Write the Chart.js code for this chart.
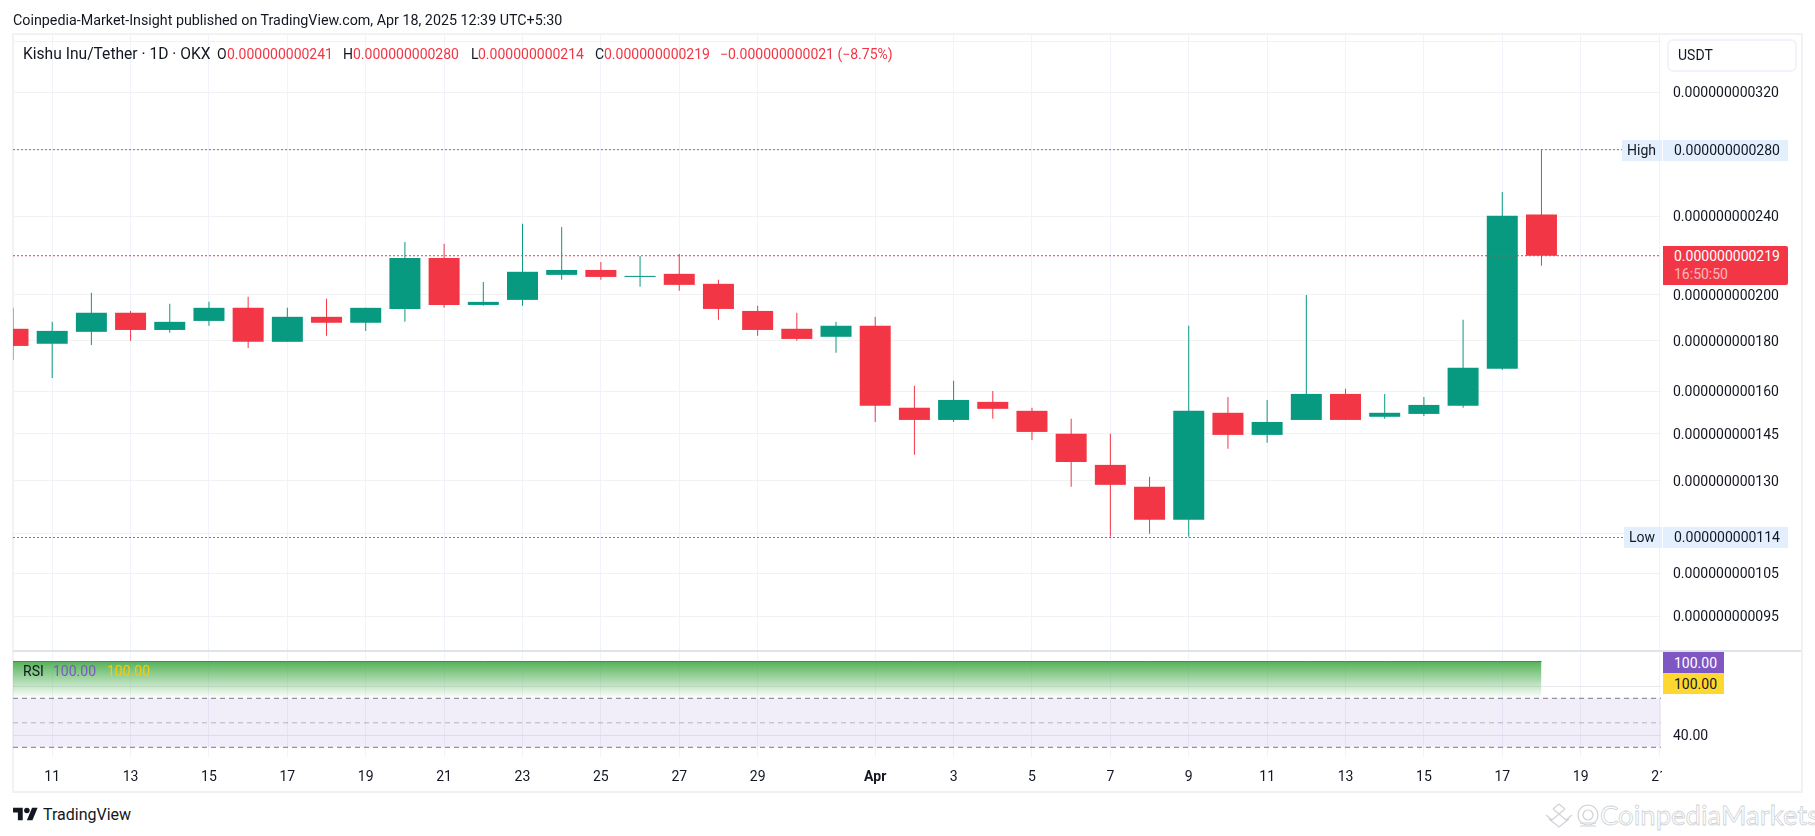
<!DOCTYPE html>
<html>
<head>
<meta charset="utf-8">
<title>Kishu Inu/Tether</title>
<script src="https://cdn.jsdelivr.net/npm/chart.js@4/dist/chart.umd.min.js"></script>
<style>
  html, body { margin: 0; padding: 0; background: #fff; }
  body { width: 1815px; height: 836px; position: relative; overflow: hidden; font: 14px Roboto, sans-serif; color: #131722; }
  canvas { position: absolute; left: 0; }
  .txt { position: absolute; white-space: nowrap; line-height: 16px; }
  .red { color: #f23645; }
  .box { position: absolute; background: #e3effd; }
  #frame { position: absolute; left: 12px; top: 33px; width: 1787px; height: 756px; border: 2px solid #f2f2f2; }
  #sep { position: absolute; left: 13px; top: 650px; width: 1788px; height: 2px; background: #e0e3eb; }
  #mask { position: absolute; left: 1662px; top: 760px; width: 30px; height: 28px; background: #fff; }
  #usdt { position: absolute; left: 1667px; top: 39px; width: 126px; height: 29px; border: 2px solid #f0f3fa; border-radius: 6px; background: #fff; }
</style>
</head>
<body>
<div id="frame"></div>
<canvas id="priceChart" width="1815" height="650" style="top:0"></canvas>
<canvas id="rsiChart" width="1815" height="140" style="top:652px"></canvas>
<div id="sep"></div>
<div id="mask"></div>

<div class="txt" style="left:13px;top:12px;font-size:14.3px">Coinpedia-Market-Insight published on TradingView.com, Apr 18, 2025 12:39 UTC+5:30</div>

<div class="txt" style="left:23px;top:46px;font-size:15.6px">Kishu Inu/Tether · 1D · OKX</div>
<div class="txt" style="left:217px;top:46px">O</div>
<div class="txt red" style="left:227px;top:46px">0.000000000241</div>
<div class="txt" style="left:343px;top:46px">H</div>
<div class="txt red" style="left:353px;top:46px">0.000000000280</div>
<div class="txt" style="left:471px;top:46px">L</div>
<div class="txt red" style="left:478px;top:46px">0.000000000214</div>
<div class="txt" style="left:595px;top:46px">C</div>
<div class="txt red" style="left:604px;top:46px">0.000000000219</div>
<div class="txt red" style="left:720px;top:46px">−0.000000000021 (−8.75%)</div>

<div id="usdt"></div>
<div class="txt" style="left:1678px;top:47px">USDT</div>

<div class="box" style="left:1622px;top:140px;width:40px;height:21px"></div>
<div class="box" style="left:1663px;top:140px;width:125px;height:21px"></div>
<div class="txt" style="left:1627px;top:142px">High</div>
<div class="txt" style="left:1674px;top:142px">0.000000000280</div>

<div class="box" style="left:1624px;top:527px;width:38px;height:21px"></div>
<div class="box" style="left:1663px;top:527px;width:125px;height:21px"></div>
<div class="txt" style="left:1629px;top:529px">Low</div>
<div class="txt" style="left:1674px;top:529px">0.000000000114</div>

<div class="box" style="left:1663px;top:246px;width:125px;height:39px;background:#f23645;border-radius:0 2px 2px 0"></div>
<div class="txt" style="left:1674px;top:248px;color:#fff">0.000000000219</div>
<div class="txt" style="left:1674px;top:266px;color:rgba(255,255,255,.65)">16:50:50</div>

<div class="txt" style="left:23px;top:663px">RSI</div>
<div class="txt" style="left:53px;top:663px;color:#7e57c2">100.00</div>
<div class="txt" style="left:107px;top:663px;color:#ffc800">100.00</div>

<div class="box" style="left:1663px;top:652px;width:61px;height:21px;background:#7e57c2"></div>
<div class="box" style="left:1663px;top:673px;width:61px;height:21px;background:#ffd82f"></div>
<div class="txt" style="left:1674px;top:655px;color:#fff">100.00</div>
<div class="txt" style="left:1674px;top:676px">100.00</div>

<svg style="position:absolute;left:12.7px;top:805px" width="25" height="19.4" viewBox="0 0 36 28" fill="#131722">
  <path d="M14 22H7V11H0V4h14v18zM28 22h-8l7.5-18h8L28 22z"/><circle cx="20" cy="8" r="4"/>
</svg>
<div class="txt" style="left:43px;top:807px;font-size:16px">TradingView</div>

<svg style="position:absolute;left:1545px;top:802px" width="56" height="26" fill="none" stroke="#cfd2d6" stroke-width="1.2">
  <path d="M1 13l6 5 7-6 7 6 6-5M4 17l10 8 10-8M8 7l6-5 6 5M8 7l6 5 6-5"/>
  <circle cx="43" cy="13" r="10"/><circle cx="43" cy="13" r="5"/><path d="M35 21h16M35 24h16"/>
</svg>
<div class="txt" style="left:1600px;top:799px;font:27.5px/32px Lato, sans-serif;color:#fff;-webkit-text-stroke:.8px #cfd2d6">CoinpediaMarkets</div>

<script>
// candles, Mar 10 to Apr 18, prices in units of 1e-12
const candleDates = ["Mar 10", "Mar 11", "Mar 12", "Mar 13", "Mar 14", "Mar 15", "Mar 16", "Mar 17", "Mar 18", "Mar 19",
  "Mar 20", "Mar 21", "Mar 22", "Mar 23", "Mar 24", "Mar 25", "Mar 26", "Mar 27", "Mar 28", "Mar 29", "Mar 30", "Mar 31",
  "Apr 1", "Apr 2", "Apr 3", "Apr 4", "Apr 5", "Apr 6", "Apr 7", "Apr 8", "Apr 9", "Apr 10",
  "Apr 11", "Apr 12", "Apr 13", "Apr 14", "Apr 15", "Apr 16", "Apr 17", "Apr 18"];
const opens = [184.9, 178.6, 183.6, 191.9, 184.4, 188.3, 194.1, 179.4, 190.1, 187.5,
  193.6, 217.9, 195.4, 197.7, 209.5, 211.9, 208.5, 210.0, 205.2, 192.7, 184.9, 181.5,
  186.2, 154.0, 149.7, 156.1, 152.9, 145.0, 134.9, 128.2, 118.8, 152.2,
  144.6, 149.7, 159.0, 150.8, 151.8, 154.7, 168.5, 241];
const highs = [194.1, 187.9, 201.0, 192.7, 195.9, 196.8, 199.1, 194.1, 198.2, 194.1,
  226.1, 225.1, 206.1, 235.8, 234.1, 215.9, 218.9, 219.9, 207.1, 195.0, 191.9, 187.9,
  190.1, 162.0, 163.9, 160.1, 154.0, 150.1, 145.0, 131.2, 186.2, 157.9,
  156.8, 200.0, 160.9, 159.0, 157.9, 188.8, 253.9, 280];
const lows = [172.1, 165.0, 178.1, 179.8, 183.2, 186.2, 176.9, 179.4, 181.9, 184.0,
  187.9, 194.1, 195.0, 195.0, 207.1, 207.1, 203.8, 201.9, 188.8, 181.9, 179.8, 174.9,
  149.0, 138.1, 149.0, 150.1, 142.9, 128.2, 114.2, 115.0, 114.2, 140.0,
  142.0, 149.7, 149.7, 150.1, 151.1, 154.0, 168.1, 214];
const closes = [177.7, 184.0, 191.9, 184.4, 187.9, 194.1, 179.4, 190.1, 187.5, 194.1,
  217.9, 195.4, 196.8, 211.0, 211.9, 208.5, 209.0, 204.7, 193.6, 184.4, 180.6, 186.2,
  154.7, 149.7, 156.8, 153.6, 145.6, 135.8, 128.8, 118.8, 152.9, 144.6,
  149.0, 159.0, 149.7, 152.2, 155.0, 168.9, 240.2, 219];

const rsiValues = [100, 100, 100, 100, 100, 100, 100, 100, 100, 100, 100, 100, 100, 100, 100, 100, 100, 100, 100, 100,
  100, 100, 100, 100, 100, 100, 100, 100, 100, 100, 100, 100, 100, 100, 100, 100, 100, 100, 100, 100];
const rsiMaValues = [100, 100, 100, 100, 100, 100, 100, 100, 100, 100, 100, 100, 100, 100, 100, 100, 100, 100, 100, 100,
  100, 100, 100, 100, 100, 100, 100, 100, 100, 100, 100, 100, 100, 100, 100, 100, 100, 100, 100, 100];

// x axis counts days from Mar 11
const xTickDays = [0, 2, 4, 6, 8, 10, 12, 14, 16, 18, 21, 23, 25, 27, 29, 31, 33, 35, 37, 39, 41];
const xTickLabels = ["11", "13", "15", "17", "19", "21", "23", "25", "27", "29", "Apr",
  "3", "5", "7", "9", "11", "13", "15", "17", "19", "21"];
const yGridValues = [360, 320, 280, 240, 200, 180, 160, 145, 130, 115, 105, 95];
const yLabelValues = [320, 240, 200, 180, 160, 145, 130, 105, 95];
const rsiGridValues = [80, 40];
const rsiLabelValues = [40];

const highPrice = 280;
const lowPrice = 114;
const lastPrice = 219;
const rsiUpper = 70;
const rsiMiddle = 50;
const rsiLower = 30;

const xMin = -1.0;
const xMax = 41.05;
const yMin = 87.85;
const yMax = 365.2;

const UP = "#089981";
const DOWN = "#f23645";
const GRID = "#f0f3fa";
const DOTS = "#787b86";
const FONT = "Roboto, sans-serif";

const days = candleDates.map((d, i) => i - 1);
const candleColors = closes.map((c, i) => (c >= opens[i] ? UP : DOWN));

function formatPrice(v) {
  return "0.000000000" + String(v).padStart(3, "0");
}

// pin an axis to a fixed size so the chart area lands where it should
function pinScale(size) {
  return function (scale) {
    if (scale.isHorizontal()) scale.height = size;
    else scale.width = size;
    scale.paddingTop = 0;
    scale.paddingBottom = 0;
    scale.paddingLeft = 0;
    scale.paddingRight = 0;
  };
}

function levelLine(value, color, dash, order) {
  return {
    type: "line",
    data: [{ x: xMin, y: value }, { x: xMax, y: value }],
    borderColor: color,
    borderWidth: 1,
    borderDash: dash,
    pointRadius: 0,
    order: order,
  };
}

// blank first line nudges the label down a little, Roboto sits high on the grid
const tickFont = { family: FONT, size: 14, lineHeight: 0.25 };

new Chart(document.getElementById("priceChart"), {
  type: "bar",
  data: {
    datasets: [
      {
        data: days.map((d, i) => ({ x: d, y: [lows[i], highs[i]] })),
        backgroundColor: candleColors,
        barThickness: 1,
        grouped: false,
        inflateAmount: 0,
        order: 3,
      },
      {
        data: days.map((d, i) => ({ x: d, y: [opens[i], closes[i]] })),
        backgroundColor: candleColors,
        barThickness: 31,
        grouped: false,
        inflateAmount: 0,
        order: 2,
      },
      levelLine(highPrice, DOTS, [2, 2], 1),
      levelLine(lowPrice, DOTS, [2, 2], 1),
      levelLine(lastPrice, DOWN, [2, 2], 0),
    ],
  },
  options: {
    responsive: false,
    animation: false,
    layout: { padding: { left: 13, top: 35, right: 0, bottom: 0 } },
    plugins: { legend: { display: false }, tooltip: { enabled: false } },
    scales: {
      x: {
        type: "linear",
        offset: false,
        min: xMin,
        max: xMax,
        afterBuildTicks: (s) => { s.ticks = xTickDays.map((value) => ({ value })); },
        afterFit: pinScale(0),
        ticks: { display: false, autoSkip: false },
        grid: { color: GRID, drawTicks: false, offset: false },
        border: { display: false },
      },
      y: {
        type: "logarithmic",
        position: "right",
        bounds: "data",
        min: yMin,
        max: yMax,
        afterBuildTicks: (s) => { s.ticks = yGridValues.map((value) => ({ value })); },
        afterFit: pinScale(154),
        ticks: {
          autoSkip: false,
          padding: 12,
          color: "#131722",
          font: tickFont,
          callback: (v) => (yLabelValues.includes(v) ? ["", formatPrice(v)] : ""),
        },
        grid: { color: "#f2f2f2", drawTicks: false },
        border: { display: false },
      },
    },
  },
});

new Chart(document.getElementById("rsiChart"), {
  type: "line",
  data: {
    datasets: [
      {
        data: [{ x: xMin, y: rsiUpper }, { x: xMax, y: rsiUpper }],
        borderColor: DOTS,
        borderWidth: 1,
        borderDash: [5, 4],
        pointRadius: 0,
        fill: "+1",
        backgroundColor: "rgba(126, 87, 194, 0.1)",
      },
      {
        data: [{ x: xMin, y: rsiLower }, { x: xMax, y: rsiLower }],
        borderColor: DOTS,
        borderWidth: 1,
        borderDash: [5, 4],
        pointRadius: 0,
      },
      {
        data: [{ x: xMin, y: rsiMiddle }, { x: xMax, y: rsiMiddle }],
        borderColor: "rgba(120, 123, 134, 0.5)",
        borderWidth: 1,
        borderDash: [5, 4],
        pointRadius: 0,
      },
      {
        data: days.map((d, i) => ({ x: d, y: rsiValues[i] })),
        borderColor: "#7e57c2",
        borderWidth: 1,
        pointRadius: 0,
        fill: { value: rsiUpper },
        backgroundColor: (ctx) => {
          const chart = ctx.chart;
          if (!chart.chartArea) return "transparent";
          const y = chart.scales.y;
          const g = chart.ctx.createLinearGradient(0, y.getPixelForValue(100), 0, y.getPixelForValue(rsiUpper));
          g.addColorStop(0, "rgba(76, 175, 80, 0.95)");
          g.addColorStop(1, "rgba(76, 175, 80, 0)");
          return g;
        },
      },
      {
        data: days.map((d, i) => ({ x: d, y: rsiMaValues[i] })),
        borderColor: "#fdd835",
        borderWidth: 1,
        pointRadius: 0,
      },
    ],
  },
  options: {
    responsive: false,
    animation: false,
    layout: { padding: { left: 13, top: 0, right: 0, bottom: 0 } },
    plugins: { legend: { display: false }, tooltip: { enabled: false } },
    scales: {
      x: {
        type: "linear",
        min: xMin,
        max: xMax,
        afterBuildTicks: (s) => { s.ticks = xTickDays.map((value) => ({ value })); },
        afterFit: pinScale(35),
        ticks: {
          autoSkip: false,
          maxRotation: 0,
          padding: 12,
          color: "#131722",
          font: (ctx) => ({
            family: FONT,
            size: 14,
            weight: ctx.tick && ctx.tick.value === 21 ? "bold" : "normal",
          }),
          callback: (v) => xTickLabels[xTickDays.indexOf(v)],
        },
        grid: { color: GRID, drawTicks: false },
        border: { display: false },
      },
      y: {
        type: "linear",
        position: "right",
        bounds: "data",
        min: 22.08,
        max: 107.8,
        afterBuildTicks: (s) => { s.ticks = rsiGridValues.map((value) => ({ value })); },
        afterFit: pinScale(154),
        ticks: {
          autoSkip: false,
          padding: 12,
          color: "#131722",
          font: tickFont,
          callback: (v) => (rsiLabelValues.includes(v) ? ["", v.toFixed(2)] : ""),
        },
        grid: { color: "#e8e9ef", drawTicks: false },
        border: { display: false },
      },
    },
  },
});
</script>
</body>
</html>
